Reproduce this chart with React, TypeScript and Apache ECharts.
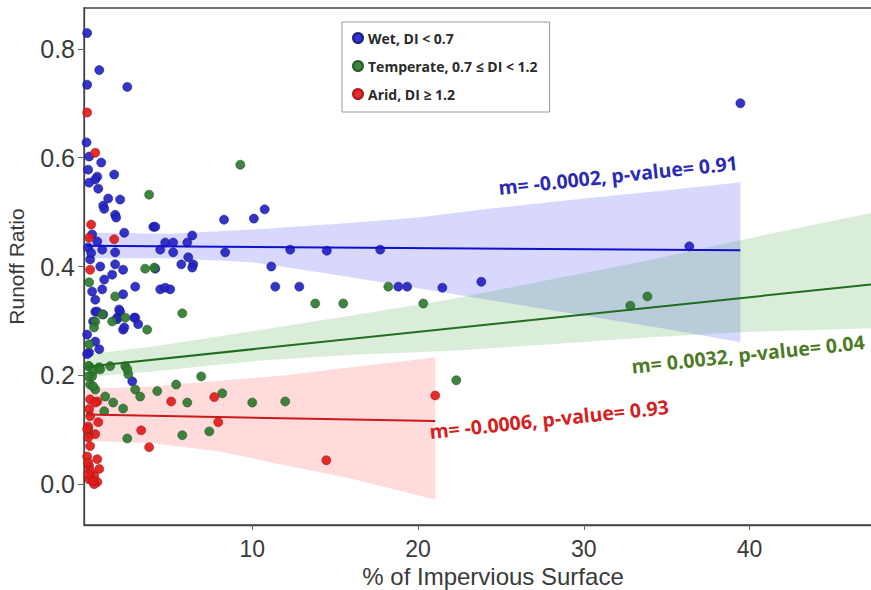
import React, { useEffect, useRef } from 'react';
import * as echarts from 'echarts';

// ---------- data ----------
const seriesNames = ['Wet, DI < 0.7', 'Temperate, 0.7 ≤ DI < 1.2', 'Arid, DI ≥ 1.2'];

const wetPoints: number[][] = [
  [0.04, 0.829], [0.77, 0.761], [2.46, 0.730], [0.04, 0.734],
  [0.0, 0.628], [0.16, 0.602], [0.89, 0.591], [0.10, 0.578], [0.65, 0.565], [0.53, 0.560], [1.67, 0.569],
  [0.16, 0.554], [0.71, 0.543], [1.31, 0.525], [2.03, 0.523], [1.01, 0.512], [1.07, 0.506], [1.73, 0.495],
  [1.79, 0.490], [4.03, 0.473], [4.15, 0.473], [2.28, 0.462], [0.34, 0.459],
  [8.30, 0.486], [10.10, 0.488], [10.75, 0.505],
  [4.45, 0.431], [4.75, 0.444], [5.23, 0.444], [6.08, 0.444], [6.38, 0.457], [5.23, 0.426], [8.37, 0.426],
  [6.14, 0.417], [6.44, 0.404], [5.72, 0.404], [6.38, 0.398], [4.15, 0.396], [11.15, 0.400], [11.39, 0.363],
  [12.84, 0.363], [12.29, 0.431], [14.50, 0.429], [17.72, 0.431],
  [18.81, 0.363], [19.35, 0.363], [21.47, 0.361], [23.82, 0.372], [36.37, 0.437], [39.45, 0.700],
  [4.45, 0.358], [4.75, 0.361], [5.05, 0.358],
  [0.83, 0.400], [1.73, 0.404], [2.21, 0.394], [1.55, 0.385], [1.07, 0.376], [2.94, 0.363], [0.95, 0.358],
  [2.21, 0.349], [0.53, 0.317], [2.03, 0.317], [2.94, 0.306], [3.12, 0.294], [2.21, 0.284], [1.85, 0.306],
  [0.40, 0.299], [1.01, 0.312],
  [0.65, 0.446], [0.95, 0.431], [1.73, 0.426], [0.22, 0.413], [0.34, 0.354], [0.53, 0.339], [0.65, 0.317],
  [1.97, 0.321], [1.85, 0.303], [2.28, 0.288], [2.88, 0.306], [0.04, 0.275], [0.53, 0.262], [0.16, 0.242],
  [0.77, 0.248], [0.04, 0.239], [2.76, 0.189], [0.10, 0.435], [0.28, 0.425],
];

const temperatePoints: number[][] = [
  [9.28, 0.587], [3.78, 0.532], [3.54, 0.396], [4.09, 0.398], [0.16, 0.371], [1.73, 0.345], [0.95, 0.312],
  [1.55, 0.299], [2.34, 0.306], [3.66, 0.284], [0.53, 0.299], [0.46, 0.288], [0.16, 0.257], [0.16, 0.217],
  [0.77, 0.215], [1.43, 0.217], [2.34, 0.217], [5.78, 0.314], [13.80, 0.332], [15.49, 0.332], [18.21, 0.363],
  [20.32, 0.332], [32.81, 0.328], [33.84, 0.345], [22.31, 0.191], [6.92, 0.198], [5.41, 0.183], [4.27, 0.171],
  [8.19, 0.167], [6.08, 0.150], [10.00, 0.150], [11.99, 0.152], [5.78, 0.090], [7.41, 0.097], [2.46, 0.084],
  [0.10, 0.217], [0.40, 0.207], [0.83, 0.211], [2.52, 0.202], [2.94, 0.174], [1.13, 0.161], [1.61, 0.150],
  [2.21, 0.139], [3.24, 0.161], [1.07, 0.134], [0.34, 0.198], [0.22, 0.183], [0.53, 0.174], [2.46, 0.211],
  [0.16, 0.092], [0.10, 0.198], [0.40, 0.180], [0.10, 0.101],
];

const aridPoints: number[][] = [
  [0.04, 0.683], [0.53, 0.609], [0.28, 0.477], [0.16, 0.453], [1.67, 0.450], [0.22, 0.394],
  [0.22, 0.156], [0.65, 0.152], [0.53, 0.150], [0.16, 0.138], [0.22, 0.125], [0.71, 0.114], [0.10, 0.106],
  [0.04, 0.101], [0.53, 0.092], [0.10, 0.086], [0.22, 0.070], [0.04, 0.051], [0.65, 0.046], [0.16, 0.033],
  [0.77, 0.028], [0.46, 0.015], [0.16, 0.009], [0.65, 0.004], [0.46, 0.000], [0.10, 0.040], [0.22, 0.024],
  [0.40, 0.006], [0.10, 0.018],
  [5.11, 0.152], [7.71, 0.160], [7.95, 0.114], [3.30, 0.099], [3.78, 0.068], [21.04, 0.163], [14.47, 0.044],
];

// regression lines (start, end)
const wetFit: number[][] = [[0, 0.438], [39.45, 0.430]];
const temperateFit: number[][] = [[0, 0.216], [49.2, 0.373]];
const aridFit: number[][] = [[0, 0.128], [21.04, 0.116]];

// confidence bands
const wetBandX = [0, 5, 10, 15, 20, 24, 30, 35, 39.45];
const wetBandLow = [0.415, 0.415, 0.408, 0.385, 0.360, 0.340, 0.310, 0.285, 0.261];
const wetBandHigh = [0.462, 0.460, 0.468, 0.478, 0.490, 0.505, 0.525, 0.540, 0.555];

const temperateBandX = [0, 4, 10, 16, 22, 28, 34, 40, 49.2];
const temperateBandLow = [0.197, 0.207, 0.226, 0.238, 0.245, 0.257, 0.270, 0.280, 0.288];
const temperateBandHigh = [0.238, 0.253, 0.281, 0.310, 0.340, 0.376, 0.412, 0.452, 0.510];

const aridBandX = [0, 4, 8, 12, 16, 21.04];
const aridBandLow = [0.080, 0.075, 0.060, 0.035, 0.010, -0.028];
const aridBandHigh = [0.175, 0.180, 0.190, 0.200, 0.215, 0.233];

const xTickLabels = [10, 20, 30, 40];
const yTickLabels = [0.0, 0.2, 0.4, 0.6, 0.8];

const annotations = [
  'm= -0.0002, p-value= 0.91',
  'm= 0.0032, p-value= 0.04',
  'm= -0.0006, p-value= 0.93',
];

// ---------- styles ----------
const pointColors = ['#2323c4', '#2f7a2f', '#e01b1b'];
const pointBorders = ['#14147a', '#1d521d', '#a81010'];
const lineColors = ['#1010c8', '#1f6e1f', '#cc1a1a'];
const bandColors = ['rgba(40,40,255,0.18)', 'rgba(30,150,30,0.17)', 'rgba(255,40,40,0.17)'];
const annColors = ['#2a2ab5', '#4d7a26', '#d42020'];

export default function App() {
  const ref = useRef<HTMLDivElement>(null);

  useEffect(() => {
    if (!ref.current) return;
    const chart = echarts.init(ref.current, undefined, { renderer: 'svg' });

    const bands = [
      { x: wetBandX, lo: wetBandLow, hi: wetBandHigh },
      { x: temperateBandX, lo: temperateBandLow, hi: temperateBandHigh },
      { x: aridBandX, lo: aridBandLow, hi: aridBandHigh },
    ];

    const bandSeries = bands.map((b, i) => ({
      type: 'custom',
      silent: true,
      z: 1,
      data: [[b.x[0], b.lo[0]]],
      renderItem: (params: any, api: any) => {
        const pts: number[][] = [];
        for (let k = 0; k < b.x.length; k++) pts.push(api.coord([b.x[k], b.hi[k]]));
        for (let k = b.x.length - 1; k >= 0; k--) pts.push(api.coord([b.x[k], b.lo[k]]));
        return {
          type: 'polygon',
          shape: { points: pts },
          style: { fill: bandColors[i], stroke: 'none' },
        };
      },
    }));

    const pointSets = [wetPoints, temperatePoints, aridPoints];
    const scatterSeries = pointSets.map((pts, i) => ({
      name: seriesNames[i],
      type: 'scatter',
      z: 2,
      symbolSize: 9,
      clip: true,
      data: pts,
      itemStyle: { color: pointColors[i], borderColor: pointBorders[i], borderWidth: 0.6, opacity: 0.92 },
    }));

    const fits = [wetFit, temperateFit, aridFit];
    const lineSeries = fits.map((f, i) => ({
      type: 'line',
      z: 3,
      silent: true,
      symbol: 'none',
      data: f,
      lineStyle: { color: lineColors[i], width: 2 },
    }));

    const annPos = [
      { x: 618, y: 175 },
      { x: 748, y: 354 },
      { x: 549, y: 419 },
    ];
    const rot = (6 * Math.PI) / 180;

    chart.setOption({
      animation: false,
      backgroundColor: '#ffffff',
      grid: {
        left: 84,
        top: 8,
        width: 818,
        bottom: 65,
        outerBoundsMode: 'none',
        containLabel: false,
        show: true,
        borderColor: '#444',
        borderWidth: 1.3,
        backgroundColor: 'transparent',
      },
      legend: {
        data: seriesNames,
        orient: 'vertical',
        left: 342,
        top: 22,
        padding: [9, 12, 11, 10],
        itemGap: 14,
        itemWidth: 10,
        itemHeight: 10,
        icon: 'circle',
        borderColor: '#9a9a9a',
        borderWidth: 1,
        backgroundColor: '#fff',
        textStyle: { fontFamily: 'Open Sans', fontWeight: 'bold', fontSize: 14, color: '#2a2a2a' },
      },
      xAxis: {
        type: 'value',
        min: -0.15,
        max: 49.2,
        splitLine: { show: false },
        axisLine: { show: true, onZero: false, lineStyle: { color: '#444', width: 1.3 } },
        axisTick: { show: true, length: 5, customValues: xTickLabels, lineStyle: { color: '#666' } },
        axisLabel: {
          customValues: xTickLabels,
          margin: 12,
          fontSize: 23,
          fontFamily: 'Liberation Sans',
          color: '#3a3a3a',
          formatter: (v: number) => String(Math.round(v)),
        },
        name: '% of Impervious Surface',
        nameLocation: 'middle',
        nameGap: 39,
        nameTextStyle: { fontSize: 24, fontFamily: 'Liberation Sans', color: '#3a3a3a' },
      },
      yAxis: {
        type: 'value',
        min: -0.075,
        max: 0.875,
        splitLine: { show: false },
        axisLine: { show: true, onZero: false, lineStyle: { color: '#444', width: 1.3 } },
        axisTick: { show: true, length: 6, customValues: yTickLabels, lineStyle: { color: '#666' } },
        axisLabel: {
          customValues: yTickLabels,
          margin: 9,
          fontSize: 25,
          fontFamily: 'Liberation Sans',
          color: '#3a3a3a',
          formatter: (v: number) => v.toFixed(1),
        },
        name: 'Runoff Ratio',
        nameLocation: 'middle',
        nameGap: 57,
        nameTextStyle: { fontSize: 21, fontFamily: 'Liberation Sans', color: '#3a3a3a' },
      },
      graphic: annotations.map((t, i) => ({
        type: 'text',
        x: annPos[i].x,
        y: annPos[i].y,
        rotation: rot,
        z: 10,
        style: {
          text: t,
          fill: annColors[i],
          font: 'bold 19.5px "Open Sans"',
          textAlign: 'center',
          textVerticalAlign: 'middle',
        },
      })),
      series: [...bandSeries, ...scatterSeries, ...lineSeries],
    });

    return () => chart.dispose();
  }, []);

  return <div ref={ref} style={{ position: 'absolute', left: 0, top: 0, width: 871, height: 590 }} />;
}
